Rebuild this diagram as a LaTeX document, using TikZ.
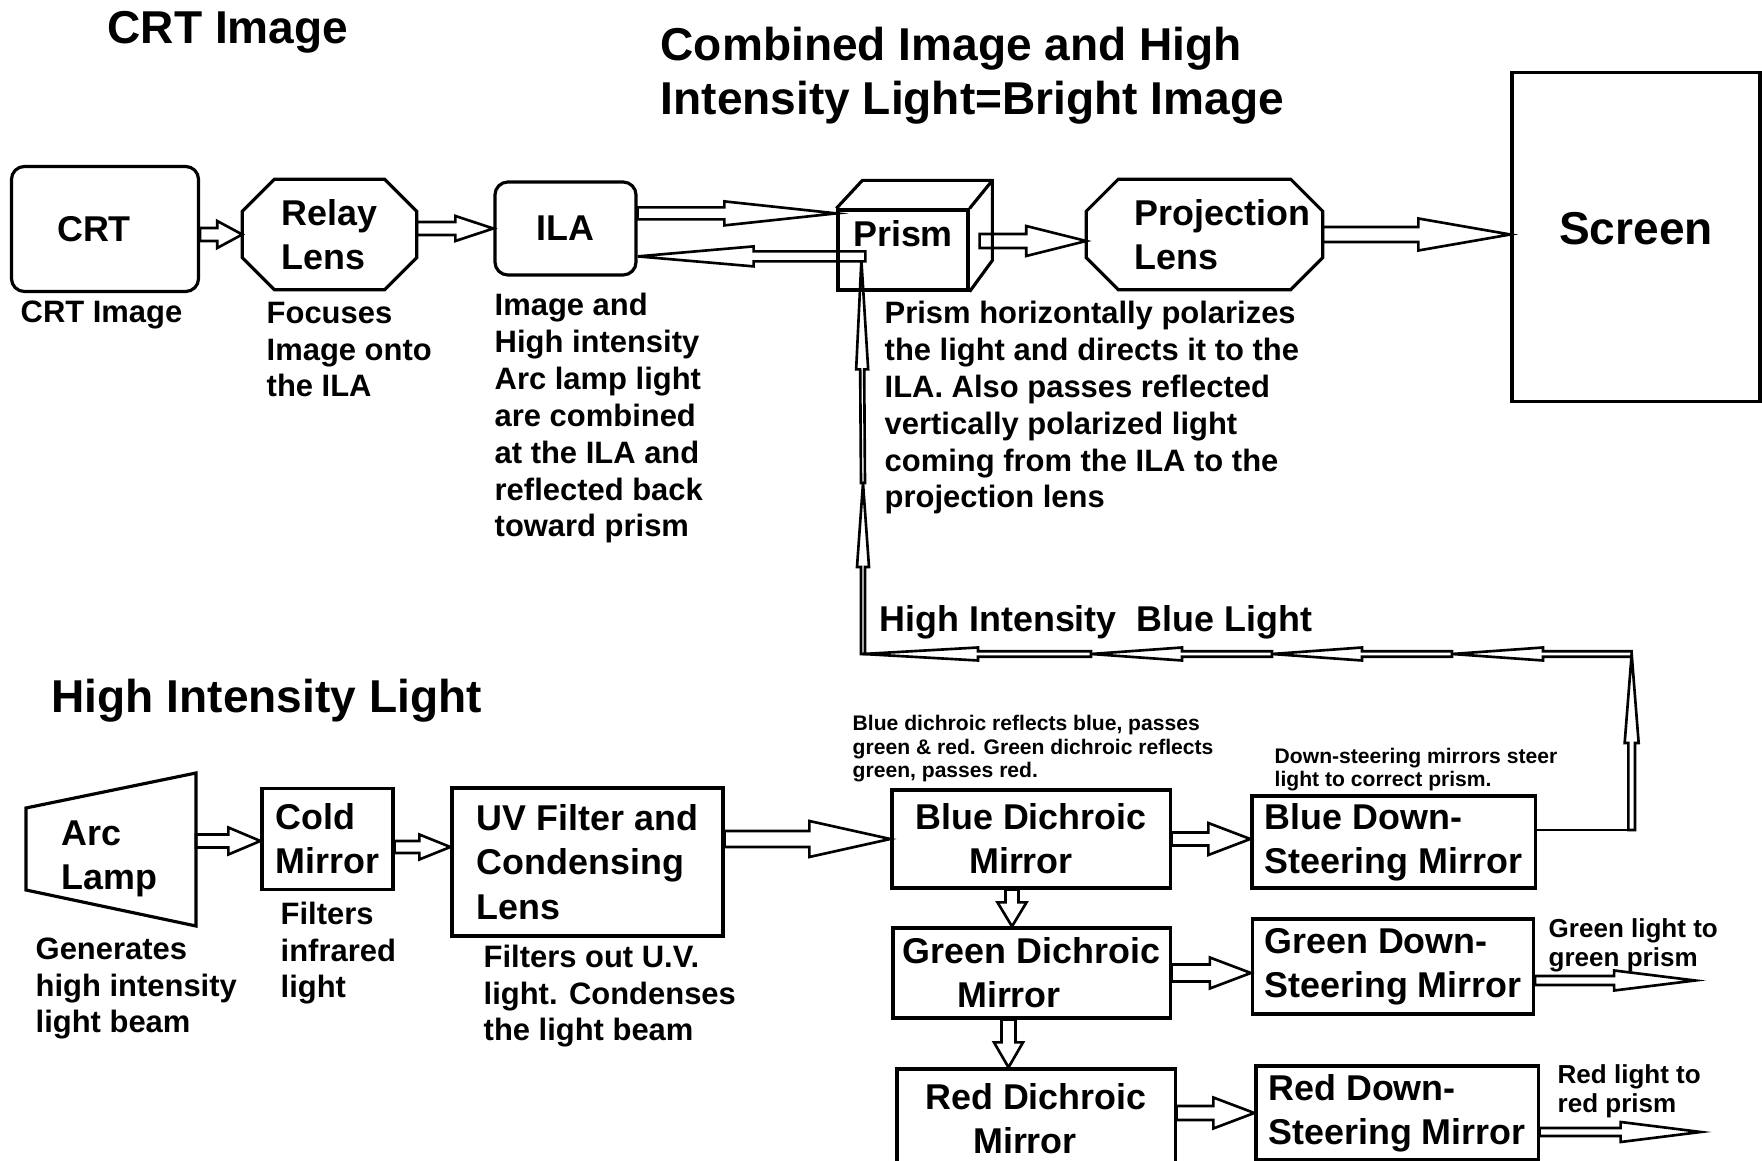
\documentclass[tikz,border=0pt]{standalone}
\usepackage{fontspec}
\setmainfont{Liberation Sans}
\usetikzlibrary{calc}

\newcommand\titlefont{\fontsize{13.1pt}{15.6pt}\selectfont\bfseries}
\newcommand\boxfont{\fontsize{10.2pt}{12.6pt}\selectfont\bfseries}
\newcommand\notefont{\fontsize{8.8pt}{10.5pt}\selectfont\bfseries}
\newcommand\sidefont{\fontsize{7.4pt}{8.5pt}\selectfont\bfseries}
\newcommand\minifont{\fontsize{6pt}{6.8pt}\selectfont\bfseries}

\def\pxu{0.01cm}
\def\chamf{0.32cm}

% hollow block arrow: from, to, half shaft, half head, head length (in px)
\newcommand\barrow[5]{%
  \coordinate (ba-b) at ($(#2)!#5*\pxu!(#1)$);
  \draw[flow] ($(#1)!#3*\pxu!90:(#2)$) -- ($(ba-b)!#3*\pxu!90:(#2)$)
    -- ($(ba-b)!#4*\pxu!90:(#2)$) -- (#2) -- ($(ba-b)!#4*\pxu!-90:(#2)$)
    -- ($(ba-b)!#3*\pxu!-90:(#2)$) -- ($(#1)!#3*\pxu!-90:(#2)$) -- cycle;}

% octagon round a lens node
\newcommand\lensframe[1]{%
  \draw[frame] ([xshift=\chamf]#1.north west) -- ([xshift=-\chamf]#1.north east)
    -- ([yshift=-\chamf]#1.north east) -- ([yshift=\chamf]#1.south east)
    -- ([xshift=-\chamf]#1.south east) -- ([xshift=\chamf]#1.south west)
    -- ([yshift=\chamf]#1.south west) -- ([yshift=-\chamf]#1.north west) -- cycle;}

\begin{document}
\begin{tikzpicture}[x=0.01cm,y=-0.01cm,
  frame/.style={draw,line width=0.9pt},
  box/.style={frame,rectangle,font=\boxfont,inner sep=1.5pt},
  rbox/.style={box,rounded corners=0.13cm},
  lens/.style={rectangle,font=\boxfont,align=left,inner sep=1.5pt},
  flow/.style={draw,line width=0.75pt},
  note/.style={font=\notefont,align=left,anchor=base west,inner sep=0pt},
  title/.style={note,font=\titlefont}]
  \useasboundingbox (0,0) rectangle (1762,1161);

  % titles (multi-line texts sit on the baseline of their last line)
  \node[title] (crttitle) at (107,44) {CRT Image};
  \node[title] (brighttitle) at (660,115) {Combined Image and High\\Intensity Light=Bright Image};
  \node[title] (lighttitle) at (51,713) {High Intensity Light};

  % image path
  \node[rbox,minimum width=1.87cm,minimum height=1.25cm] (crt) at (105,229) {CRT\hspace*{0.22cm}};
  \node[lens,minimum width=1.73cm,minimum height=1.09cm] (relay) at (329.5,234.5) {Relay\\Lens};
  \lensframe{relay}
  \node[rbox,minimum width=1.41cm,minimum height=0.93cm] (ila) at (565.5,228.5) {ILA};
  \node[box,minimum width=1.30cm,minimum height=0.80cm,text depth=0.32cm] (prism) at (903,250) {Prism};
  \draw[frame] (prism.north west) -- ++(26,-28) -- ++(130,0) coordinate (pc) -- ++(0,80)
    -- (prism.south east) (prism.north east) -- (pc);
  \node[lens,minimum width=2.35cm,minimum height=1.09cm] (proj) at (1204.5,234.5)
    {\hspace*{0.36cm}Projection\\\hspace*{0.36cm}Lens};
  \lensframe{proj}
  \node[box,font=\titlefont,minimum width=2.48cm,minimum height=3.28cm,text depth=0.17cm] (screen) at (1636,237) {Screen};

  \node[note] (crtnote) at (20,323) {CRT Image};
  \node[note] (relaynote) at (266,397) {Focuses\\Image onto\\the ILA};
  \node[note] (ilanote) at (494,537) {Image and\\High intensity\\Arc lamp light\\are combined\\at the ILA and\\reflected back\\toward prism};
  \node[note] (prismnote) at (884,508) {Prism horizontally polarizes\\the light and directs it to the\\ILA. Also passes reflected\\vertically polarized light\\coming from the ILA to the\\projection lens};

  \coordinate (pin) at ($(prism.north west)+(0,5)$);
  \coordinate (pj) at ($(prism.north west)+(29,48)$);
  \coordinate (pout) at ($(prism.east)+(10,-9)$);
  \barrow{crt.east |- relay.west}{relay.west}{6.5}{13.5}{25}
  \barrow{relay.east |- ila.west}{ila.west}{6.5}{12.5}{38}
  \barrow{ila.east |- pin}{pin}{6}{12}{112}
  \barrow{pj}{ila.east |- pj}{5}{10}{116}
  \barrow{pout}{proj.west |- pout}{7}{15}{60}
  \barrow{proj.east}{screen.west |- proj.east}{7.5}{16}{92}

  % light path
  \draw[frame] (26,808) -- (196,773) -- (196,926) -- (26,890) -- cycle;
  \node[lens,anchor=base west,inner sep=0pt] (lamp) at (61,890) {Arc\\Lamp};
  \coordinate (lampout) at (196,841);
  \node[box,align=left,minimum width=1.31cm,minimum height=1.01cm] (cold) at (327.5,839) {Cold\\Mirror};
  \node[box,align=left,minimum width=2.71cm,minimum height=1.48cm] (uv) at (587.5,862) {UV Filter and\\Condensing\\Lens};
  \node[box,align=center,minimum width=2.78cm,minimum height=0.98cm] (bd) at (1031,839) {Blue Dichroic\\Mirror\hspace*{0.2cm}};
  \node[box,align=left,minimum width=2.83cm,minimum height=0.92cm] (bds) at (1393.5,842) {Blue Down-\\Steering Mirror};
  \node[box,align=center,minimum width=2.77cm,minimum height=0.90cm] (gd) at (1031.5,973) {Green Dichroic\\Mirror\hspace*{0.45cm}};
  \node[box,align=left,minimum width=2.81cm,minimum height=0.95cm] (gds) at (1393,966.5) {Green Down-\\Steering Mirror};
  \node[box,align=center,minimum width=2.78cm,minimum height=1.00cm] (rd) at (1036,1119) {Red Dichroic\\Mirror\hspace*{0.22cm}};
  \node[box,align=left,minimum width=2.82cm,minimum height=0.94cm] (rds) at (1397,1113) {Red Down-\\Steering Mirror};

  \node[note] (lampnote) at (35,1033) {Generates\\high intensity\\light beam};
  \node[note] (coldnote) at (280,998) {Filters\\infrared\\light};
  \node[note] (uvnote) at (483,1041) {Filters out U.V.\\light. Condenses\\the light beam};
  \node[note,font=\minifont] (dichnote) at (852,778) {Blue dichroic reflects blue, passes\\green \& red. Green dichroic reflects\\green, passes red.};
  \node[note,font=\minifont] (dsnote) at (1274,787) {Down-steering mirrors steer\\light to correct prism.};
  \node[note,font=\sidefont] (greennote) at (1548,967) {Green light to\\green prism};
  \node[note,font=\sidefont] (rednote) at (1557,1113) {Red light to\\red prism};
  \node[note,font=\boxfont] (bluenote) at (879,632) {High Intensity\ \ Blue Light};

  \coordinate (coldout) at ($(cold.east)+(0,8)$);
  \coordinate (bddown) at ($(bd.south)+(-19,0)$);
  \coordinate (gddown) at ($(gd.south)+(-23,0)$);
  \coordinate (gout) at ($(gds.east)+(160,14)$);
  \coordinate (rout) at ($(rds.east)+(161,19)$);
  \barrow{lampout}{cold.west |- lampout}{6.5}{13.5}{32}
  \barrow{coldout}{uv.west |- coldout}{6}{12.5}{31}
  \barrow{uv.east |- bd.west}{bd.west}{8}{18}{81}
  \barrow{bd.east}{bds.west |- bd.east}{6.5}{16}{42}
  \barrow{bddown}{bddown |- gd.north}{6.5}{14.5}{24}
  \barrow{gd.east}{gds.west |- gd.east}{8.5}{15.5}{41}
  \barrow{gddown}{gddown |- rd.north}{7}{14.5}{25}
  \barrow{rds.west -| rd.east}{rds.west}{7}{15.5}{41}
  \barrow{gds.east |- gout}{gout}{4.5}{10}{81}
  \barrow{rds.east |- rout}{rout}{4}{10}{80}

  % blue light back to the prism
  \coordinate (bc1) at ($(bds.east)+(95,-12)$);
  \coordinate (bc2) at ($(bc1)+(0,-176)$);
  \coordinate (h1) at (1452,654);
  \coordinate (h2) at (1272,654);
  \coordinate (h3) at (1091,654);
  \coordinate (bc3) at (863,654);
  \coordinate (v1) at (863,483);
  \coordinate (v2) at ($(pj)+(-4,4)$);
  \draw[flow] ($(bds.east)+(0,-12)$) -- (bc1);
  \barrow{bc1}{bc2}{3.3}{7}{89}
  \foreach \a/\b/\l in {bc2/h1/91,h1/h2/90,h2/h3/91,h3/bc3/115}
    {\barrow{\a}{\b}{2.7}{6.5}{\l}}
  \barrow{bc3}{v1}{2}{6}{84}
  \barrow{v1}{v2}{2}{6}{109}
\end{tikzpicture}
\end{document}
